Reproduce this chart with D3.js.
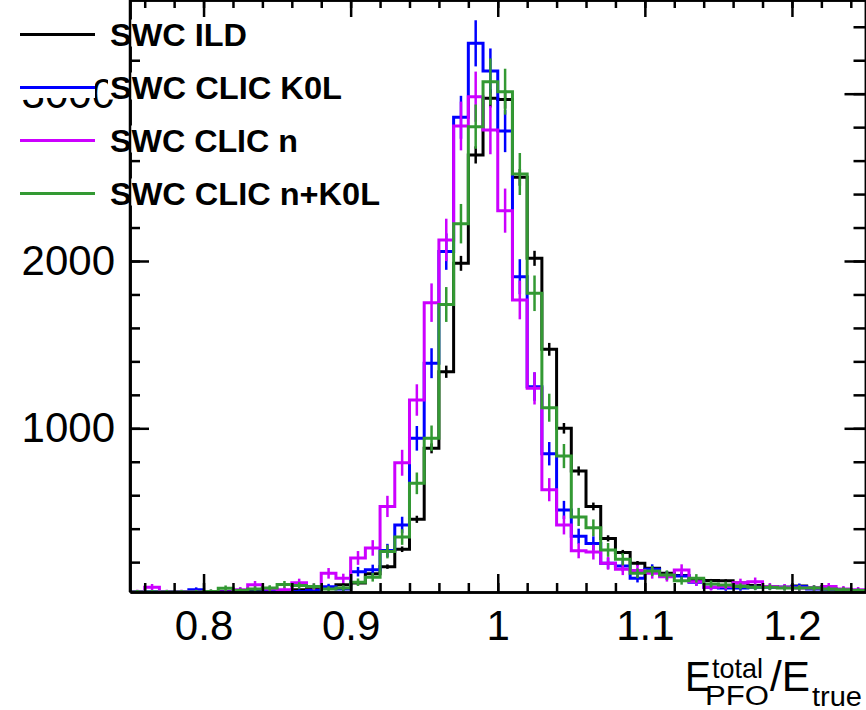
<!DOCTYPE html>
<html>
<head>
<meta charset="utf-8">
<script src="https://cdn.jsdelivr.net/npm/d3@7"></script>
<style>
  body { margin: 0; background: #fff; }
  svg { display: block; }
</style>
</head>
<body>
<div id="chart"></div>
<script>
// 50 bins of width 0.01 starting at 0.75
var binLow = 0.75
var binWidth = 0.01

// counts per bin
var ild = [22, 22, 22, 22, 22, 22, 25, 25, 30, 30,
  30, 35, 40, 45, 65, 75, 130, 173, 277, 456,
  880, 1338, 1986, 2634, 2972, 2965, 2500, 2016, 1472, 1000,
  745, 533, 342, 257, 193, 163, 133, 120, 95, 90,
  88, 75, 60, 55, 50, 57, 45, 40, 35, 30]
var clicK0L = [22, 22, 22, 22, 35, 22, 22, 22, 22, 25,
  25, 25, 30, 53, 40, 143, 155, 270, 422, 940,
  1389, 2056, 2859, 3301, 3136, 2777, 1906, 1249, 848, 512,
  355, 312, 193, 177, 103, 157, 120, 117, 80, 50,
  45, 45, 50, 50, 50, 55, 40, 40, 35, 30]
var clicN = [22, 50, 22, 22, 22, 22, 22, 35, 65, 40,
  35, 77, 53, 133, 103, 225, 285, 533, 794, 1169,
  1751, 2126, 2807, 2982, 2783, 2301, 1767, 1239, 633, 422,
  268, 260, 193, 157, 150, 133, 113, 153, 83, 50,
  55, 77, 83, 55, 50, 45, 45, 55, 40, 35]
var clicNK0L = [22, 22, 22, 22, 22, 25, 44, 30, 40, 45,
  67, 60, 55, 40, 45, 80, 110, 263, 350, 671,
  940, 1740, 2223, 2803, 3072, 3012, 2520, 1807, 1123, 834,
  470, 405, 273, 217, 133, 147, 123, 89, 103, 69,
  63, 55, 50, 50, 45, 45, 45, 40, 35, 30]

var seriesNames = ['SWC ILD', 'SWC CLIC K0L', 'SWC CLIC n', 'SWC CLIC n+K0L']
var seriesColors = ['#000000', '#0000ff', '#cc00ff', '#339933']
// the CLIC samples are reweighted, so their bars are wider than sqrt(N)
var errScale = [1.0, 2.4, 2.75, 2.5]

var xMajor = [0.8, 0.9, 1.0, 1.1, 1.2]
var xLabels = ['0.8', '0.9', '1', '1.1', '1.2']
var yMajor = [1000, 2000, 3000]
var yLabels = ['1000', '2000', '3000']

var w = 866
var h = 710
var font = 'Liberation Sans, Arial, Helvetica, sans-serif'

var frame = { left: 130, right: 865.5, top: 0, bottom: 592 }

var x = d3.scaleLinear().domain([0.75, 1.25]).range([frame.left, frame.right])
var y = d3.scaleLinear().domain([21.5, 3560]).range([frame.bottom, frame.top])

var svg = d3.select('div#chart').append('svg')
  .attr('width', w)
  .attr('height', h)
  .attr('viewBox', [0, 0, w, h].join(' '))

svg.append('clipPath').attr('id', 'plotclip')
  .append('rect')
  .attr('x', frame.left)
  .attr('y', frame.top)
  .attr('width', frame.right - frame.left)
  .attr('height', frame.bottom - frame.top)

var lows = d3.range(ild.length).map(function (i) { return binLow + i * binWidth })

// draw histograms in legend order, green ends up on top
var plot = svg.append('g').attr('clip-path', 'url(#plotclip)')
var stepLine = d3.line()
  .x(function (d) { return x(d[0]) })
  .y(function (d) { return y(d[1]) })
  .curve(d3.curveStepAfter)

;[ild, clicK0L, clicN, clicNK0L].forEach(function (vals, s) {
  var pts = vals.map(function (v, i) { return [lows[i], v] })
  pts.push([lows[lows.length - 1] + binWidth, vals[vals.length - 1]])

  plot.append('path')
    .attr('d', stepLine(pts))
    .attr('fill', 'none')
    .attr('stroke', seriesColors[s])
    .attr('stroke-width', 3)

  plot.selectAll(null)
    .data(vals)
    .enter().append('line')
    .attr('x1', function (d, i) { return x(lows[i] + binWidth / 2) })
    .attr('x2', function (d, i) { return x(lows[i] + binWidth / 2) })
    .attr('y1', function (d) { return y(d + errScale[s] * Math.sqrt(d)) })
    .attr('y2', function (d) { return y(d - errScale[s] * Math.sqrt(d)) })
    .attr('stroke', seriesColors[s])
    .attr('stroke-width', 2.5)
})

function styleAxis (g) {
  g.select('.domain').attr('stroke', '#000').attr('stroke-width', 2.5)
  g.selectAll('.tick line').attr('stroke', '#000').attr('stroke-width', 2.5)
  g.selectAll('.tick text')
    .attr('fill', '#000')
    .style('font-family', font)
    .style('font-size', '42px')
}

var xMinor = d3.range(38, 63).map(function (i) { return i * 0.02 })
var yMinor = d3.range(1, 18).map(function (i) { return i * 200 })

// bottom
svg.append('g').attr('transform', 'translate(0,' + frame.bottom + ')')
  .call(d3.axisBottom(x).tickValues(xMinor).tickFormat('').tickSize(-9).tickSizeOuter(0))
  .call(styleAxis)
svg.append('g').attr('transform', 'translate(0,' + frame.bottom + ')')
  .call(d3.axisBottom(x).tickValues(xMajor).tickFormat(function (d, i) { return xLabels[i] })
    .tickSize(-18).tickSizeOuter(0).tickPadding(18))
  .call(styleAxis)

// top, mirrored
svg.append('g').attr('transform', 'translate(0,' + frame.top + ')')
  .call(d3.axisTop(x).tickValues(xMinor).tickFormat('').tickSize(-8).tickSizeOuter(0))
  .call(styleAxis)
svg.append('g').attr('transform', 'translate(0,' + frame.top + ')')
  .call(d3.axisTop(x).tickValues(xMajor).tickFormat('').tickSize(-17).tickSizeOuter(0))
  .call(styleAxis)

// left
svg.append('g').attr('transform', 'translate(' + frame.left + ',0)')
  .call(d3.axisLeft(y).tickValues(yMinor).tickFormat('').tickSize(-10).tickSizeOuter(0))
  .call(styleAxis)
svg.append('g').attr('transform', 'translate(' + frame.left + ',0)')
  .call(d3.axisLeft(y).tickValues(yMajor).tickFormat(function (d, i) { return yLabels[i] })
    .tickSize(-19).tickSizeOuter(0).tickPadding(15))
  .call(styleAxis)

// right, mirrored
svg.append('g').attr('transform', 'translate(' + frame.right + ',0)')
  .call(d3.axisRight(y).tickValues(yMinor).tickFormat('').tickSize(-12).tickSizeOuter(0))
  .call(styleAxis)
svg.append('g').attr('transform', 'translate(' + frame.right + ',0)')
  .call(d3.axisRight(y).tickValues(yMajor).tickFormat('').tickSize(-21).tickSizeOuter(0))
  .call(styleAxis)

// x axis title  E^total_PFO / E_true
var title = svg.append('g').style('font-family', font).attr('fill', '#000')
title.append('text').text('E').attr('x', 685).attr('y', 691)
  .style('font-size', '42px').attr('textLength', 26).attr('lengthAdjust', 'spacingAndGlyphs')
title.append('text').text('total').attr('x', 712).attr('y', 678)
  .style('font-size', '28px').attr('textLength', 51).attr('lengthAdjust', 'spacingAndGlyphs')
title.append('text').text('PFO').attr('x', 705).attr('y', 705)
  .style('font-size', '27px').attr('textLength', 64).attr('lengthAdjust', 'spacingAndGlyphs')
title.append('text').text('/E').attr('x', 770).attr('y', 691)
  .style('font-size', '42px').attr('textLength', 40).attr('lengthAdjust', 'spacingAndGlyphs')
title.append('text').text('true').attr('x', 812).attr('y', 706)
  .style('font-size', '27px').attr('textLength', 50).attr('lengthAdjust', 'spacingAndGlyphs')

// legend
var legendTop = 34.5
var legendStep = 53
var legendText = [137, 232, 188, 270]
var legend = svg.append('g')

seriesNames.forEach(function (name, i) {
  var cy = legendTop + i * legendStep
  legend.append('rect')
    .attr('x', 0).attr('y', cy - 16).attr('width', 95).attr('height', 26.5)
    .attr('fill', '#fff')
  legend.append('rect')
    .attr('x', 108).attr('y', cy - 15).attr('width', legendText[i] + 4).attr('height', 27)
    .attr('fill', '#fff')
})

// the left frame line runs through the legend
svg.append('line')
  .attr('x1', frame.left).attr('x2', frame.left)
  .attr('y1', frame.top).attr('y2', frame.bottom)
  .attr('stroke', '#000').attr('stroke-width', 2.5)

seriesNames.forEach(function (name, i) {
  var cy = legendTop + i * legendStep
  legend.append('line')
    .attr('x1', 20).attr('x2', 95)
    .attr('y1', cy).attr('y2', cy)
    .attr('stroke', seriesColors[i])
    .attr('stroke-width', 3)
  legend.append('text').text(name)
    .attr('x', 110).attr('y', cy + 11)
    .attr('textLength', legendText[i]).attr('lengthAdjust', 'spacingAndGlyphs')
    .style('font-family', font)
    .style('font-size', '32px')
    .style('font-weight', 'bold')
    .attr('fill', '#000')
})
</script>
</body>
</html>
